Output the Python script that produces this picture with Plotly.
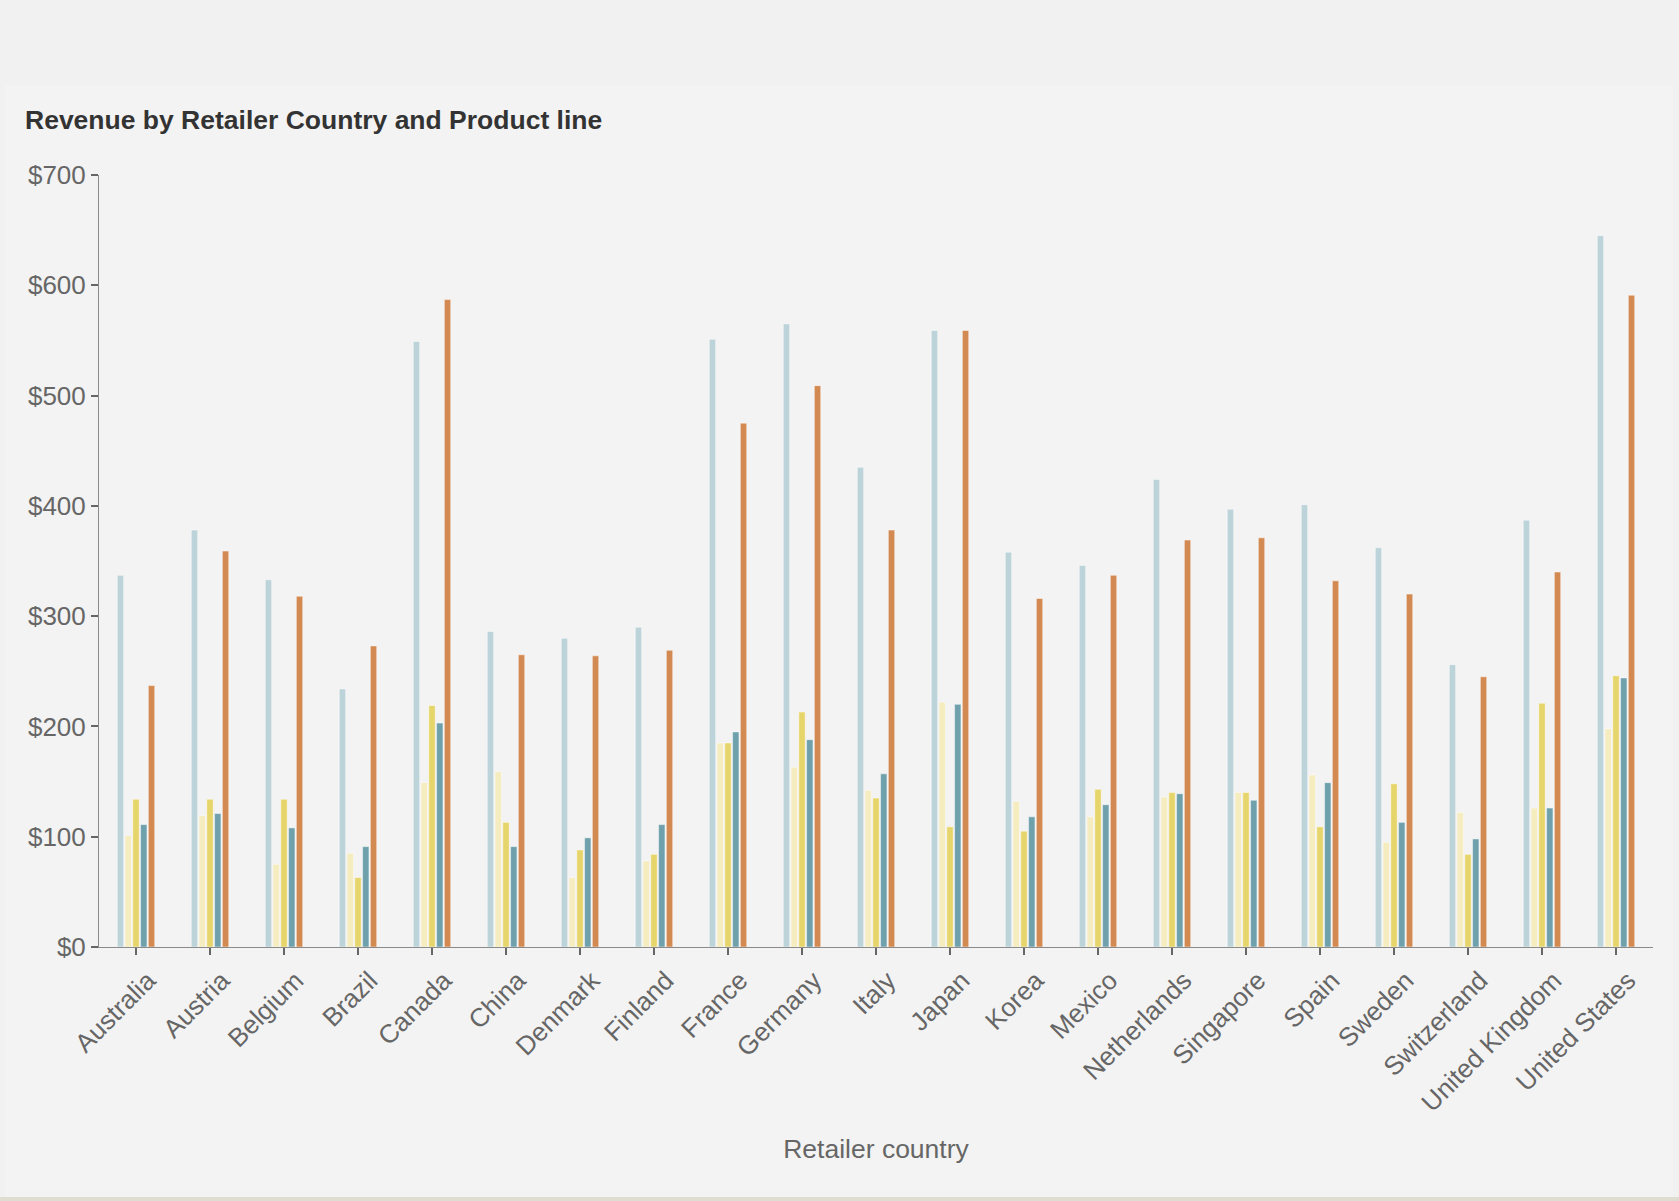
import plotly.graph_objects as go

countries = ["Australia", "Austria", "Belgium", "Brazil", "Canada", "China", "Denmark",
             "Finland", "France", "Germany", "Italy", "Japan", "Korea", "Mexico",
             "Netherlands", "Singapore", "Spain", "Sweden", "Switzerland",
             "United Kingdom", "United States"]

camping = [337, 378, 333, 234, 549, 286, 280, 290, 551, 565, 435, 559, 358, 346,
           424, 397, 401, 362, 256, 387, 645]
golf = [101, 119, 75, 85, 149, 159, 63, 78, 185, 163, 142, 222, 132, 118,
        136, 140, 156, 95, 122, 126, 198]
mountaineering = [134, 134, 134, 63, 219, 113, 88, 84, 185, 213, 135, 109, 105, 143,
                  140, 140, 109, 148, 84, 221, 246]
outdoor = [111, 121, 108, 91, 203, 91, 99, 111, 195, 188, 157, 220, 118, 129,
           139, 133, 149, 113, 98, 126, 244]
personal = [237, 359, 318, 273, 587, 265, 264, 269, 475, 509, 378, 559, 316, 337,
            369, 371, 332, 320, 245, 340, 591]

series = [
    ("Camping Equipment", camping, "#bcd3d9"),
    ("Golf Equipment", golf, "#f5ecc0"),
    ("Mountaineering Equipment", mountaineering, "#e6d56b"),
    ("Outdoor Protection", outdoor, "#6fa1ac"),
    ("Personal Accessories", personal, "#d38a52"),
]

W, H = 1679, 1201
L, R, T, B = 99, 1679 - 1653, 175, 1201 - 947
PW, PH = W - L - R, H - T - B

fig = go.Figure()
for name, vals, col in series:
    fig.add_trace(go.Bar(
        x=countries, y=vals, name=name,
        marker=dict(color=col, line=dict(color="rgba(255,255,255,0.45)", width=1)),
    ))

def px_x(p):
    return (p - L) / PW

def px_y(p):
    return (H - B - p) / PH

fig.update_layout(
    width=W, height=H,
    margin=dict(l=L, r=R, t=T, b=B, autoexpand=False),
    paper_bgcolor="#f1f1f1",
    plot_bgcolor="rgba(0,0,0,0)",
    barmode="group",
    bargap=0.475,
    bargroupgap=0.18,
    showlegend=False,
    font=dict(family="Liberation Sans, Arial, sans-serif", color="#666666"),
    title=dict(
        text="<b>Revenue by Retailer Country and Product line</b>",
        x=25 / W, xref="container", xanchor="left",
        y=1 - 120 / H, yref="container", yanchor="middle",
        font=dict(size=26.5, color="#333333", family="Liberation Sans, Arial, sans-serif"),
    ),
    shapes=[dict(
        type="rect", xref="paper", yref="paper", layer="below",
        x0=px_x(5), x1=px_x(1673), y0=px_y(1197), y1=px_y(85),
        fillcolor="#f3f3f3", line=dict(width=0),
    ), dict(
        type="rect", xref="paper", yref="paper", layer="below",
        x0=px_x(0), x1=px_x(W), y0=px_y(H), y1=px_y(1197),
        fillcolor="#deddcf", line=dict(width=0),
    )],
)

fig.update_yaxes(
    range=[0, 700], dtick=100, tickprefix="$",
    showgrid=False, zeroline=False,
    showline=True, linecolor="#8a8a8a", linewidth=1,
    ticks="outside", ticklen=7, tickwidth=2, tickcolor="#666666",
    tickfont=dict(size=26, color="#666666"),
)
fig.update_xaxes(
    showgrid=False, showline=True, linecolor="#8a8a8a", linewidth=1,
    ticks="outside", ticklen=7, tickwidth=2, tickcolor="#666666",
    tickangle=-45, ticklabelshift=12,
    tickfont=dict(size=26, color="#666666"),
    title=dict(text="Retailer country", font=dict(size=26.5, color="#666666"), standoff=22),
)

fig.write_html(
    "out.html",
    config={"displayModeBar": False},
    post_script="document.body.style.margin='0';document.body.style.padding='0';",
)
